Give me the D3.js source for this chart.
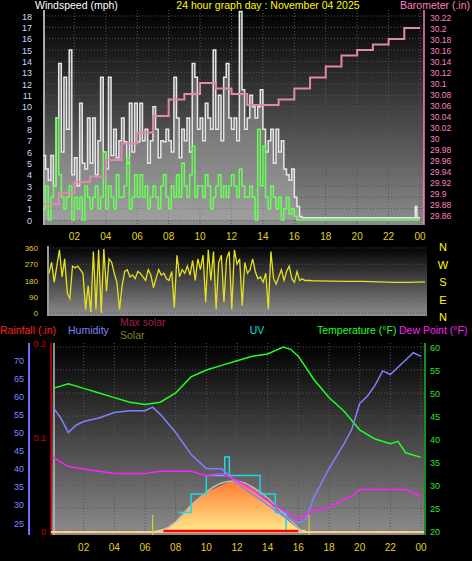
<!DOCTYPE html>
<html><head><meta charset="utf-8">
<script src="https://cdn.jsdelivr.net/npm/d3@7"></script>
<style>body{margin:0;background:#000}svg{display:block;font-family:"Liberation Sans",Arial,sans-serif}</style>
</head><body><svg id="c" width="472" height="561"></svg>
<script>
const timeTicks=["02","04","06","08","10","12","14","16","18","20","22","00"];
const windTicks=[0,1,2,3,4,5,6,7,8,9,10,11,12,13,14,15,16,17,18];
const baroTicks=[29.86,29.88,29.9,29.92,29.94,29.96,29.98,30,30.02,30.04,30.06,30.08,30.1,30.12,30.14,30.16,30.18,30.2,30.22];
// 10-minute samples from 00:00 to 16:50
const gust=[5.7,4.5,3.5,5.7,3,9, 13.8,6,12.6,8,15,4, 5.5,3,10.3,5,4.5,9, 5,9,4,7,12.6,6, 4.5,12.6,5.7,8,5.5,7,
 9,6.9,5,10.3,6,10.3, 6.9,10.3,7,8,5,7, 10,8,5.5,7,6.9,8, 7,6,12.6,9,5.5,8, 7,9,6,13.8,12.6,8,
 9,7,10.3,9,8,15, 8,11,7,12.6,13.8,9, 8,9,7,18.4,11.5,8, 9,11,10,9,10,11.5, 8,6,7,8,5,8,
 6,7,4.5,4,3.5,4.5, 2,1.2,0.3,0.2,0.2,0.2];
const avgWind=[1,3,0,2,3,9, 4,2,1,2,3,0, 2,1,2,0,3,2, 1,2,3,1,2,6, 1,3,2,1,4,2, 2,3,5.5,1,2,4,
 2,4,2,3,1,2, 3,2,1,3,4,2, 1,3,2,4,2,5, 3,2,4,6.5,2,3, 3,2,4,3,1,2, 3,4,2,3,2,3, 4,3,2,4.5,3,2,
 2,3,2,0,8,3, 6.5,2,1,3,2,1, 2,0,1,2,0.5,1, 0.3,0,0,0,0,0];
const gustLateHours=[17,18,19,20,21,22,23,23.6,23.7,23.8,24];
const gustLate=[0.2,0.2,0.2,0.2,0.2,0.2,0.2,0.2,1.2,0.2,0.2];
const baroHours=[0,1,2,3,4,5,6,7,8,9,10,11,12,13,14,15,16,17,18,19,20,21,22,23,24];
const baro=[29.88,29.90,29.92,29.93,29.96,29.99,30.01,30.04,30.07,30.08,30.10,30.09,30.08,30.06,30.06,30.07,30.09,30.11,30.13,30.15,30.16,30.17,30.18,30.20,30.20];
const dirTicks=[0,90,180,270,360];
const compass=["N","W","S","E","N"];
const dir=[220,280,170,260,350,200, 300,110,80,260,250,260, 240,220,20,150,5,340, 20,350,0,355,120,300,
 280,220,170,20,150,230, 240,200,210,190,230,220, 200,180,240,210,140,190, 240,210,220,190,180,230,
 30,320,200,240,220,260, 210,290,180,300,240,320, 60,350,180,340,20,280, 320,60,300,340,20,350,
 270,300,40,280,220,240, 300,230,190,200,170,220, 20,340,190,160,200,240, 180,230,260,190,170,230, 180,190,180,180,180,178];
const dirLateHours=[17,18,19,20,21,22,23,24];
const dirLate=[178,176,175,175,172,170,170,172];
const humTicks=[25,30,35,40,45,50,55,60,65,70];
const tempTicks=[20,25,30,35,40,45,50,55,60];
const rainTicks=["0","0.1","0.2"];
const tHours=[0,1,2,3,4,5,6,7,8,9,10,11,12,13,14,15,15.5,16,17,18,19,20,21,22,22.5,23,24];
const temp=[51,52,51,50,49,48,47.5,48,50,53.5,55,56,57,58,58.5,60,59.5,58,53,49,46,42,40,39,39.5,37,36];
const hHours=[0,0.5,1,1.5,2,3,4,5,6,6.5,7,8,9,10,11,11.5,12,13,14,15,16,16.5,17,17.5,18,19,19.5,20,20.5,21,21.5,22,22.5,23,23.5,24];
const hum=[57,54,50,52,53,54,55.5,56,56,57,55,50,44,40,40,38,36,33,30,27,25,26,32,36,40,47,51,58,60,63,67,66,68,70,72,71];
const dHours=[0,1,2,3,4,5,6,7,8,9,10,11,12,13,14,15,16,17,18,19,19.5,20,21,22,23,24];
const dew=[36,34,33.5,33,32.5,32.5,32.5,33,33,33,32,32.5,31,29,26.5,24.5,22.5,24.5,25,27,27.5,29,29,29,29,27.5];
const sHours=[6.5,7,7.5,8,8.5,9,9.5,10,10.5,11,11.5,12,12.5,13,13.5,14,14.5,15,15.5,16,16.5];
const solar=[0,10,40,100,180,270,330,390,420,460,490,500,470,430,370,300,220,150,80,20,5];
const msHours=[7.2,8,9,10,11,11.8,12.5,13,14,15,16,16.2];
const maxSolar=[0,90,250,390,480,500,480,440,330,180,30,0];
const uvHours=[8.2,9,10,11.2,11.5,13.5,14.5,15.2,16];
const uv=[1,2,3,4,3,2,1,0,0];

const svg=d3.select("#c");
const defs=svg.append("defs");
const g=defs.append("linearGradient").attr("id","bg").attr("x1",0).attr("x2",0).attr("y1",0).attr("y2",1);
g.append("stop").attr("offset","0%").attr("stop-color","#000");
g.append("stop").attr("offset","100%").attr("stop-color","#8c8c8c");
const sg=defs.append("linearGradient").attr("id","sol").attr("x1",0).attr("x2",0).attr("y1",0).attr("y2",1);
sg.append("stop").attr("offset","0%").attr("stop-color","#ff7a30");
sg.append("stop").attr("offset","100%").attr("stop-color","#ffe88a");

function text(x,y,s,c,anchor,size){return svg.append("text").attr("x",x).attr("y",y).text(s).attr("fill",c).attr("font-size",size||10).attr("text-anchor",anchor||"start");}
function grid(x0,x1,y0,y1,ys,xs){
  svg.append("rect").attr("x",x0).attr("y",y0).attr("width",x1-x0).attr("height",y1-y0).attr("fill","url(#bg)");
  ys.forEach(y=>svg.append("line").attr("x1",x0).attr("x2",x1).attr("y1",y).attr("y2",y).attr("stroke","#555").attr("stroke-dasharray","1,2"));
  xs.forEach(x=>svg.append("line").attr("x1",x).attr("x2",x).attr("y1",y0).attr("y2",y1).attr("stroke","#555").attr("stroke-dasharray","1,2"));
}
const tick10=d3.range(gust.length).map(i=>i/6);

// ---------- Top panel ----------
const xT=d3.scaleLinear().domain([0,24]).range([43,420]);
const yW=d3.scaleLinear().domain([0,18]).range([220,16]);
const yB=d3.scaleLinear().domain([29.86,30.22]).range([215,17]);
grid(43,424,10,225,windTicks.map(yW),timeTicks.map((t,i)=>xT(2*i+2)));
text(35,9,"Windspeed (mph)","#fff","start",10.5);
text(268,9,"24 hour graph day : November 04 2025","#ffff00","middle",10.5);
text(470,9,"Barometer (.in)","#ff80c0","end",10.5);
windTicks.forEach(v=>text(32,yW(v)+3.5,v,"#c8dcff","end",9));
baroTicks.forEach(v=>text(430,yB(v)+4,v===30?"30":String(v),"#ff80c0","start",8.5));
svg.append("line").attr("x1",44).attr("x2",44).attr("y1",10).attr("y2",225).attr("stroke","#aaa").attr("stroke-width",2);
svg.append("line").attr("x1",424).attr("x2",424).attr("y1",10).attr("y2",225).attr("stroke","#ff80c0").attr("stroke-width",1.5);
const gustPts=tick10.map((h,i)=>[h,gust[i]]).concat(gustLateHours.map((h,i)=>[h,gustLate[i]]));
const avgPts=tick10.map((h,i)=>[h,avgWind[i]]).concat([[24,0]]);
svg.append("path").datum(gustPts).attr("d",d3.area().x(d=>xT(d[0])).y0(yW(0)).y1(d=>yW(d[1])).curve(d3.curveStepAfter)).attr("fill","rgba(200,200,200,0.35)");
svg.append("path").datum(gustPts).attr("d",d3.line().x(d=>xT(d[0])).y(d=>yW(d[1])).curve(d3.curveStepAfter)).attr("fill","none").attr("stroke","#e6e6e6").attr("stroke-width",1.5);
svg.append("path").datum(avgPts).attr("d",d3.line().x(d=>xT(d[0])).y(d=>yW(d[1])).curve(d3.curveStepAfter)).attr("fill","none").attr("stroke","#66ff55").attr("stroke-width",1.5);
svg.append("path").datum(baroHours.map((h,i)=>[h,baro[i]])).attr("d",d3.line().x(d=>xT(d[0])).y(d=>yB(d[1])).curve(d3.curveStepAfter)).attr("fill","none").attr("stroke","#e088b0").attr("stroke-width",2);
timeTicks.forEach((t,i)=>text(xT(2*i+2),240,t,"#e0d020","middle",10));

// ---------- Direction panel ----------
const xD=d3.scaleLinear().domain([0,24]).range([49,425]);
const yD=d3.scaleLinear().domain([0,360]).range([313,248]);
grid(47,427,246,316,dirTicks.map(yD),[]);
svg.append("line").attr("x1",48).attr("x2",48).attr("y1",246).attr("y2",316).attr("stroke","#999").attr("stroke-width",2);
dirTicks.forEach(v=>text(38,yD(v)+3,v,"#e0d020","end",8));
compass.forEach((s,i)=>text(443,251+i*17.5,s,"#ffff00","middle",11));
const dirPts=tick10.map((h,i)=>[h,dir[i]]).concat(dirLateHours.map((h,i)=>[h,dirLate[i]]));
svg.append("path").datum(dirPts).attr("d",d3.line().x(d=>xD(d[0])).y(d=>yD(d[1]))).attr("fill","none").attr("stroke","#e6e020").attr("stroke-width",1.3);

// ---------- Bottom panel ----------
text(0,334,"Rainfall (.in)","#ff2020","start",10.5);
text(68,334,"Humidity","#8080ff","start",10.5);
text(120,326,"Max solar","#a02040","start",10.5);
text(120,339,"Solar","#808020","start",10.5);
text(257,334,"UV","#00e0e0","middle",10.5);
text(317,334,"Temperature (°F)","#20ff20","start",10.5);
text(399,334,"Dew Point (°F)","#ff20ff","start",10.5);
const xB=d3.scaleLinear().domain([0,24]).range([53,421]);
const yH=d3.scaleLinear().domain([25,70]).range([523,360]);
const yT=d3.scaleLinear().domain([20,60]).range([531,347]);
const yR=d3.scaleLinear().domain([0,0.2]).range([531,343]);
const yS=d3.scaleLinear().domain([0,500]).range([531,481]);
const yU=d3.scaleLinear().domain([0,4]).range([531,457]);
grid(51,424,343,535,tempTicks.map(yT),timeTicks.map((t,i)=>xB(2*i+2)));
svg.append("line").attr("x1",29).attr("x2",29).attr("y1",343).attr("y2",535).attr("stroke","#7070ff").attr("stroke-width",2);
humTicks.forEach(v=>text(24,yH(v)+3.5,v,"#7a8cff","end",9));
svg.append("line").attr("x1",51).attr("x2",51).attr("y1",343).attr("y2",535).attr("stroke","#c00").attr("stroke-width",1.5);
rainTicks.forEach((v,i)=>text(46,yR(+v)+3.5,v,"#d00000","end",9));
svg.append("line").attr("x1",54).attr("x2",54).attr("y1",343).attr("y2",535).attr("stroke","#bbb").attr("stroke-width",1.5);
svg.append("line").attr("x1",425).attr("x2",425).attr("y1",343).attr("y2",535).attr("stroke","#20c020").attr("stroke-width",1.5);
tempTicks.forEach(v=>text(430,yT(v)+3.5,v,"#30e030","start",9));
svg.append("line").attr("x1",51).attr("x2",424).attr("y1",532).attr("y2",532).attr("stroke","#ffd080").attr("stroke-width",2);
svg.append("path").datum(sHours.map((h,i)=>[h,solar[i]])).attr("d",d3.area().x(d=>xB(d[0])).y0(yS(0)).y1(d=>yS(d[1]))).attr("fill","url(#sol)");
svg.append("path").datum(msHours.map((h,i)=>[h,maxSolar[i]])).attr("d",d3.line().x(d=>xB(d[0])).y(d=>yS(d[1])).curve(d3.curveMonotoneX)).attr("fill","none").attr("stroke","#bbb").attr("stroke-width",1.5);
svg.append("path").datum(uvHours.map((h,i)=>[h,uv[i]])).attr("d",d3.line().x(d=>xB(d[0])).y(d=>yU(d[1])).curve(d3.curveStepAfter)).attr("fill","none").attr("stroke","#20d8e0").attr("stroke-width",1.5);
svg.append("line").attr("x1",xB(7.2)).attr("x2",xB(16)).attr("y1",yR(0)).attr("y2",yR(0)).attr("stroke","#ff0000").attr("stroke-width",2.5);
[6.5,16.7].forEach(h=>svg.append("line").attr("x1",xB(h)).attr("x2",xB(h)).attr("y1",515).attr("y2",535).attr("stroke","#e0e020").attr("stroke-width",1));
svg.append("path").datum(tHours.map((h,i)=>[h,temp[i]])).attr("d",d3.line().x(d=>xB(d[0])).y(d=>yT(d[1]))).attr("fill","none").attr("stroke","#20ff20").attr("stroke-width",1.5);
svg.append("path").datum(hHours.map((h,i)=>[h,hum[i]])).attr("d",d3.line().x(d=>xB(d[0])).y(d=>yH(d[1]))).attr("fill","none").attr("stroke","#8080ff").attr("stroke-width",1.5);
svg.append("path").datum(dHours.map((h,i)=>[h,dew[i]])).attr("d",d3.line().x(d=>xB(d[0])).y(d=>yT(d[1]))).attr("fill","none").attr("stroke","#ff20ff").attr("stroke-width",1.5);
timeTicks.forEach((t,i)=>text(xB(2*i+2),551,t,"#e0d020","middle",10));
</script></body></html>
